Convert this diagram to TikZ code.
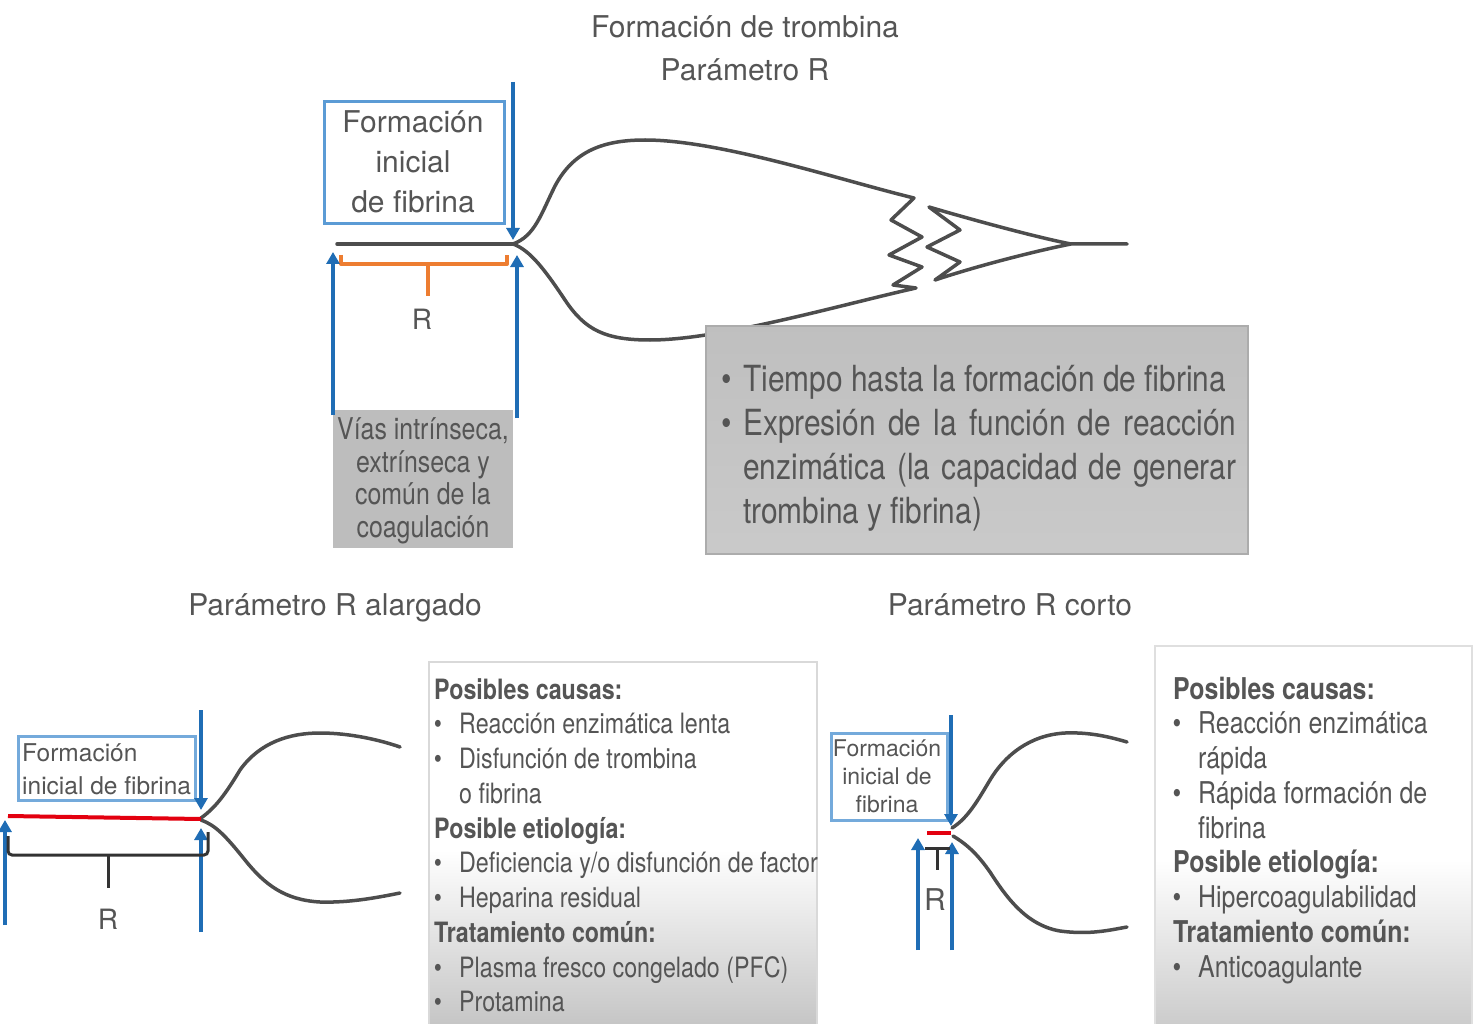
\documentclass[tikz,border=0pt]{standalone}
\usepackage{fontspec}
\setmainfont{TeX Gyre Heros}
\newfontfamily\nar[FakeStretch=0.83]{TeX Gyre Heros}
\usetikzlibrary{arrows.meta}
\definecolor{txt}{HTML}{555555}
\definecolor{arrblue}{HTML}{1F6DB5}
\definecolor{boxblue}{HTML}{5B9BD5}
\definecolor{curvegray}{HTML}{4D4D4D}
\definecolor{orng}{HTML}{ED7D31}
\definecolor{redline}{HTML}{E3000F}
\tikzset{
  lbl/.style={text=txt, inner sep=0pt},
  ttl/.style={lbl, font=\fontsize{30}{36}\selectfont, anchor=base},
  curveline/.style={draw=curvegray, line width=3.5pt, line cap=round, line join=round},
  blarrow/.style={draw=arrblue, line width=4pt, -{Triangle[length=12pt,width=13pt]}},
  bbox/.style={draw=boxblue, line width=3pt},
  bigtxt/.style={lbl, font=\nar\fontsize{36}{40}\selectfont, anchor=base west},
  viastxt/.style={lbl, font=\nar\fontsize{30}{33}\selectfont, anchor=base},
  midtxt/.style={lbl, font=\nar\fontsize{28}{34}\selectfont, anchor=base west},
  midhd/.style={lbl, font=\nar\bfseries\fontsize{28}{34}\selectfont, anchor=base west},
  midbul/.style={lbl, font=\nar\fontsize{28}{34}\selectfont, anchor=base},
  rtxt/.style={lbl, font=\nar\fontsize{30}{34}\selectfont, anchor=base west},
  rhd/.style={lbl, font=\nar\bfseries\fontsize{30}{34}\selectfont, anchor=base west},
  rbul/.style={lbl, font=\nar\fontsize{30}{34}\selectfont, anchor=base},
}
\begin{document}
\begin{tikzpicture}[x=1pt,y=-1pt]
\useasboundingbox[fill=white] (0,0) rectangle (1482,1024);

% ---------- titles ----------
\node[ttl] (t1) at (745,38) {Formación de trombina};
\node[ttl] (t2) at (745,81) {Parámetro R};

% ---------- main curve ----------
\draw[curveline] (337,244) -- (513,244);
\draw[curveline] (513,244) .. controls (535,236) and (541,214) .. (555,186)
  .. controls (574,150) and (605,140) .. (645,140)
  .. controls (720,140) and (840,180) .. (914,198)
  -- (891,220) -- (922,237) -- (889,255) -- (922,267) -- (893,285) -- (916,288)
  .. controls (840,305) and (720,340) .. (650,340)
  .. controls (605,340) and (585,330) .. (565,300)
  .. controls (545,270) and (530,250) .. (513,244);
\draw[curveline] (1127,244) -- (1071,244)
  .. controls (1040,238) and (980,222) .. (929,207)
  -- (960,230) -- (927,247) -- (960,262) -- (935,280)
  .. controls (980,265) and (1040,250) .. (1071,244);

% ---------- gray description box ----------
\node[draw=gray!65, line width=1.5pt, top color=gray!50, bottom color=gray!42,
      minimum width=542pt, minimum height=228pt, anchor=north west, inner sep=0pt] (tbox) at (705,325) {};
\node[bigtxt] (b1) at (721,391) {\textbullet};
\node[bigtxt] (l1) at (743,391) {Tiempo hasta la formación de fibrina};
\node[bigtxt] (b2) at (721,435) {\textbullet};
\node[bigtxt] (l2) at (743,435) {\makebox[493pt][s]{Expresión de la función de reacción}};
\node[bigtxt] (l3) at (743,479) {\makebox[493pt][s]{enzimática (la capacidad de generar}};
\node[bigtxt] (l4) at (743,523) {trombina y fibrina)};

% ---------- top left annotations ----------
\node[bbox, minimum width=180pt, minimum height=122pt, anchor=north west, inner sep=0pt] (ibox) at (323,100) {};
\node[ttl] (i1) at (413,133) {Formación};
\node[ttl] (i2) at (413,173) {inicial};
\node[ttl] (i3) at (413,213) {de fibrina};
\coordinate (dtop) at (513,82);
\coordinate (dend) at (513,240);
\draw[blarrow] (dtop) -- (dend);

\draw[draw=orng, line width=4pt, line join=round] (341,255) -- (341,264) -- (507,264) -- (507,255);
\draw[draw=orng, line width=4pt] (428,264) -- (428,296);
\node[ttl, font=\fontsize{28}{30}\selectfont] (rtop) at (422,329) {R};

\node[fill=gray!52, minimum width=180pt, minimum height=138pt, anchor=north west, inner sep=0pt] (vbox) at (333,410) {};
\node[viastxt] (v1) at (423,439) {Vías intrínseca,};
\node[viastxt] (v2) at (423,472) {extrínseca y};
\node[viastxt] (v3) at (423,504) {común de la};
\node[viastxt] (v4) at (423,537) {coagulación};
\coordinate (ua1) at (333,415);
\coordinate (ua1e) at (333,252);
\coordinate (ua2) at (517,418);
\coordinate (ua2e) at (517,255);
\draw[blarrow] (ua1) -- (ua1e);
\draw[blarrow] (ua2) -- (ua2e);

% ---------- section titles ----------
\node[ttl] (s1) at (335,615) {Parámetro R alargado};
\node[ttl] (s2) at (1010,615) {Parámetro R corto};

% ---------- bottom left diagram ----------
\draw[curveline] (201,818) .. controls (215,808) and (225,795) .. (240,770)
  .. controls (260,742) and (290,733) .. (320,733)
  .. controls (350,733) and (380,740) .. (400,747);
\draw[curveline] (201,820) .. controls (215,825) and (225,835) .. (245,860)
  .. controls (265,885) and (285,900) .. (320,902)
  .. controls (350,903) and (380,897) .. (400,893);
\draw[draw=redline, line width=4pt] (8,816) -- (201,819);
\node[draw=boxblue!85, line width=2.5pt, minimum width=177pt, minimum height=64pt, anchor=north west, inner sep=0pt] (lbox) at (17,735) {};
\node[lbl, font=\fontsize{24.5}{28}\selectfont, anchor=base west] (lb1) at (22,761) {Formación};
\node[lbl, font=\fontsize{24.5}{28}\selectfont, anchor=base west] (lb2) at (22,794) {inicial de fibrina};
\coordinate (ld1) at (201,710);
\coordinate (ld1e) at (201,810);
\draw[blarrow, line width=3.5pt] (ld1) -- (ld1e);
\coordinate (lu1) at (5,925);
\coordinate (lu1e) at (5,820);
\coordinate (lu2) at (201,932);
\coordinate (lu2e) at (201,828);
\draw[blarrow, line width=3.5pt] (lu1) -- (lu1e);
\draw[blarrow, line width=3.5pt] (lu2) -- (lu2e);
\draw[draw=black!80, line width=3pt, rounded corners=4pt] (8,836) -- (8,855) -- (208,855) -- (208,832);
\draw[draw=black!80, line width=3pt] (108,855) -- (108,888);
\node[ttl, font=\fontsize{28}{30}\selectfont] (rl) at (108,929) {R};

% ---------- bottom middle text box ----------
\fill[white] (429,662) rectangle (817,1024);
\shade[top color=white, bottom color=gray!45] (429,850) rectangle (817,1024);
\draw[gray!30, line width=2pt] (429,1024) -- (429,662) -- (817,662) -- (817,1024);
\node[midhd] (m1) at (434,699) {Posibles causas:};
\node[midbul] (mb2) at (438,733) {\textbullet};
\node[midtxt] (m2) at (459,733) {Reacción enzimática lenta};
\node[midbul] (mb3) at (438,768) {\textbullet};
\node[midtxt] (m3) at (459,768) {Disfunción de trombina};
\node[midtxt] (m4) at (459,803) {o fibrina};
\node[midhd] (m5) at (434,838) {Posible etiología:};
\node[midbul] (mb6) at (438,872) {\textbullet};
\node[midtxt] (m6) at (459,872) {Deficiencia y/o disfunción de factor};
\node[midbul] (mb7) at (438,907) {\textbullet};
\node[midtxt] (m7) at (459,907) {Heparina residual};
\node[midhd] (m8) at (434,942) {Tratamiento común:};
\node[midbul] (mb9) at (438,977) {\textbullet};
\node[midtxt] (m9) at (459,977) {Plasma fresco congelado (PFC)};
\node[midbul] (mb10) at (438,1011) {\textbullet};
\node[midtxt] (m10) at (459,1011) {Protamina};

% ---------- bottom right diagram ----------
\draw[curveline] (952,828) .. controls (968,818) and (978,800) .. (990,780)
  .. controls (1005,755) and (1030,735) .. (1065,733)
  .. controls (1090,732) and (1110,737) .. (1127,742);
\draw[curveline] (953,836) .. controls (968,845) and (978,855) .. (990,872)
  .. controls (1005,895) and (1025,925) .. (1060,931)
  .. controls (1090,935) and (1110,930) .. (1127,927);
\draw[draw=redline, line width=4pt] (927,833) -- (951,833);
\node[draw=boxblue!85, line width=2.5pt, minimum width=116pt, minimum height=87pt, anchor=north west, inner sep=0pt] (rbox) at (830,732) {};
\node[lbl, font=\fontsize{23}{28}\selectfont, anchor=base] (rb1) at (887,756) {Formación};
\node[lbl, font=\fontsize{23}{28}\selectfont, anchor=base] (rb2) at (887,784) {inicial de};
\node[lbl, font=\fontsize{23}{28}\selectfont, anchor=base] (rb3) at (887,812) {fibrina};
\coordinate (rd1) at (951,715);
\coordinate (rd1e) at (951,826);
\draw[blarrow, line width=3.5pt] (rd1) -- (rd1e);
\coordinate (ru1) at (918,950);
\coordinate (ru1e) at (918,838);
\coordinate (ru2) at (952,950);
\coordinate (ru2e) at (952,842);
\draw[blarrow, line width=3.5pt] (ru1) -- (ru1e);
\draw[blarrow, line width=3.5pt] (ru2) -- (ru2e);
\draw[draw=black!80, line width=3pt] (925,848) -- (950,848);
\draw[draw=black!80, line width=3pt] (937,848) -- (937,870);
\node[ttl, font=\fontsize{30}{32}\selectfont] (rr) at (935,910) {R};

% ---------- bottom right text box ----------
\fill[white] (1155,646) rectangle (1472,1024);
\shade[top color=white, bottom color=gray!40] (1155,860) rectangle (1472,1024);
\draw[gray!25, line width=2pt] (1155,1024) -- (1155,646) -- (1472,646) -- (1472,1024);
\node[rhd] (r1) at (1173,699) {Posibles causas:};
\node[rbul] (rbl2) at (1177,733) {\textbullet};
\node[rtxt] (r2) at (1198,733) {Reacción enzimática};
\node[rtxt] (r3) at (1198,768) {rápida};
\node[rbul] (rbl4) at (1177,803) {\textbullet};
\node[rtxt] (r4) at (1198,803) {Rápida formación de};
\node[rtxt] (r5) at (1198,838) {fibrina};
\node[rhd] (r6) at (1173,872) {Posible etiología:};
\node[rbul] (rbl7) at (1177,907) {\textbullet};
\node[rtxt] (r7) at (1198,907) {Hipercoagulabilidad};
\node[rhd] (r8) at (1173,942) {Tratamiento común:};
\node[rbul] (rbl9) at (1177,977) {\textbullet};
\node[rtxt] (r9) at (1198,977) {Anticoagulante};
\end{tikzpicture}
\end{document}
